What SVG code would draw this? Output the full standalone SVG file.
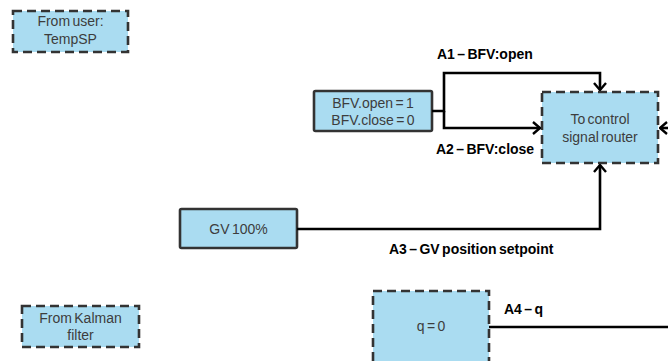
<svg xmlns="http://www.w3.org/2000/svg" width="668" height="361" viewBox="0 0 668 361">
<defs>
<marker id="arr" viewBox="0 0 10 14" refX="9" refY="7" markerWidth="10" markerHeight="14" markerUnits="userSpaceOnUse" orient="auto">
<path d="M2 1 L9 7 L2 13" fill="none" stroke="#000" stroke-width="2.4" stroke-linejoin="miter"/>
</marker>
<style>
.box{fill:#aadcf1;stroke:#333;stroke-width:2.6}
.dash{stroke-dasharray:9 5}
.nt{font-family:"Liberation Sans",Arial,sans-serif;font-size:14px;fill:#3d3d3d;text-anchor:middle;word-spacing:-1.5px}
.lbl{font-family:"Liberation Sans",Arial,sans-serif;font-size:14px;font-weight:bold;fill:#000;word-spacing:-1.5px}
.con{fill:none;stroke:#000;stroke-width:2.6}
</style>
</defs>
<rect width="668" height="361" fill="#fff"/>
<g id="from-user">
<rect class="box dash" x="13" y="11" width="115" height="41"/>
<text class="nt" x="70.5" y="26">From user:</text>
<text class="nt" x="70.5" y="44">TempSP</text>
</g>
<g id="bfv">
<rect class="box" x="314" y="91" width="118" height="40" rx="1.5"/>
<text class="nt" x="373" y="108">BFV.open = 1</text>
<text class="nt" x="373" y="125">BFV.close = 0</text>
</g>
<g id="router">
<rect class="box dash" x="542" y="92" width="116" height="71"/>
<text class="nt" x="600" y="124">To control</text>
<text class="nt" x="600" y="142">signal router</text>
</g>
<g id="gv">
<rect class="box" x="180" y="209" width="117" height="39" rx="1.5"/>
<text class="nt" x="238.5" y="234">GV 100%</text>
</g>
<g id="kalman">
<rect class="box dash" x="22" y="306" width="117" height="41"/>
<text class="nt" x="80.5" y="323">From Kalman</text>
<text class="nt" x="80.5" y="340">filter</text>
</g>
<g id="q0">
<rect class="box dash" x="373" y="291" width="116" height="80"/>
<text class="nt" x="431" y="331">q = 0</text>
</g>
<g id="connectors">
<path class="con" d="M432 111 H444 V73 H600 V90" marker-end="url(#arr)"/>
<path class="con" d="M444 111 V128 H540" marker-end="url(#arr)"/>
<path class="con" d="M672 128 H660" marker-end="url(#arr)"/>
<path class="con" d="M297 229 H600 V165" marker-end="url(#arr)"/>
<path class="con" d="M489 327 H672"/>
<text class="lbl" x="437" y="59">A1 – BFV:open</text>
<text class="lbl" x="436" y="154">A2 – BFV:close</text>
<text class="lbl" x="389" y="254">A3 – GV position setpoint</text>
<text class="lbl" x="504" y="314">A4 – q</text>
</g>
</svg>
